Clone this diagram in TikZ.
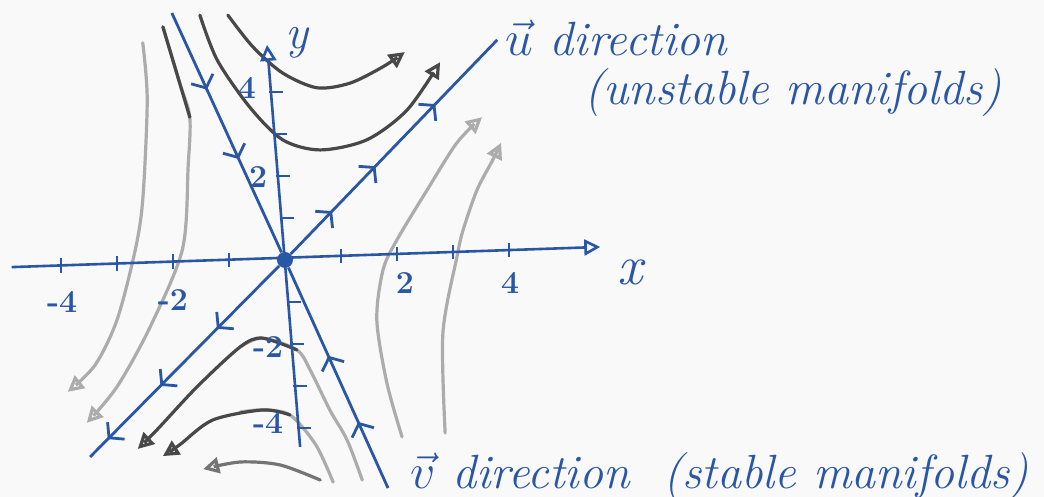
\documentclass[tikz,border=0pt]{standalone}
\usepackage{fontspec}
\usepackage{tikz}
\usetikzlibrary{arrows.meta,calc,decorations.markings}
\definecolor{ink}{RGB}{42,86,166}
\definecolor{pencil}{RGB}{72,72,72}
\definecolor{pencillt}{RGB}{172,172,172}
\definecolor{paper}{RGB}{249,249,249}
\tikzset{
  chev/.tip={Straight Barb[length=5pt,width=12pt]},
  headtip/.tip={Triangle[open,length=8pt,width=8pt]}
}

\begin{document}
\begin{tikzpicture}[
  x=28pt,y=21pt,
  axis/.style={draw=ink,line width=1.3pt},
  manifold/.style={draw=ink,line width=1.4pt,postaction={decorate}},
  flow/.style={draw=pencil,line width=1.6pt,line cap=round,-{headtip}},
  flowlt/.style={flow,draw=pencillt},
  ticklab/.style={text=ink,font=\fontsize{16}{19}\selectfont\bfseries,inner sep=0},
  axlab/.style={text=ink,font=\fontsize{24}{28}\selectfont\itshape,inner sep=0},
  note/.style={text=ink,font=\fontsize{24}{28}\selectfont\itshape,inner sep=0,anchor=base west}
]
\path[use as bounding box,fill=paper] (-5.089,-5.643) rectangle (13.554,6.19);

% trajectories
\draw[flow] plot[smooth] coordinates {(-1.02,5.83) (-0.57,5.07) (-0.04,4.45) (0.57,4.10) (1.16,4.21) (1.75,4.60) (2.14,4.95)};
\draw[flow] plot[smooth] coordinates {(-1.52,5.83) (-1.21,4.76) (-0.63,3.64) (-0.04,2.86) (0.63,2.62) (1.46,2.86) (2.18,3.57) (2.77,4.71)};
\draw[flowlt] plot[smooth] coordinates {(-2.54,5.17) (-2.46,3.81) (-2.54,1.43) (-2.68,0.2) (-3.0,-1.43) (-3.39,-2.5) (-3.88,-3.14)};
\draw[flowlt] plot[smooth] coordinates {(-2.18,5.55) (-1.88,4.21) (-1.70,3.40) (-1.73,2.21) (-1.83,0.26) (-2.41,-1.6) (-3.0,-3.02) (-3.54,-3.88)};
\draw[flow,-] plot[smooth] coordinates {(-2.18,5.55) (-1.88,4.21) (-1.70,3.40)};
\draw[flowlt] plot[smooth] coordinates {(2.09,-4.21) (1.82,-2.93) (1.64,-1.43) (1.75,-0.24) (2.0,0.48) (2.54,1.67) (3.07,2.79) (3.52,3.40)};
\draw[flowlt] plot[smooth] coordinates {(2.86,-4.12) (2.82,-1.74) (3.07,0.07) (3.18,0.71) (3.43,1.67) (3.71,2.38) (3.86,2.79)};
\draw[flowlt,-] plot[smooth] coordinates {(1.38,-5.24) (1.11,-4.29) (0.80,-3.57) (0.45,-2.62) (0.21,-2.14) (-0.41,-1.86) (-0.80,-2.07)};
\draw[flow] plot[smooth] coordinates {(0.21,-2.14) (-0.41,-1.86) (-0.80,-2.07) (-1.57,-3.02) (-2.29,-4.05) (-2.63,-4.5)};
\draw[flowlt,-] plot[smooth] coordinates {(0.86,-5.29) (0.55,-4.40) (0.09,-3.69) (-0.39,-3.57) (-0.80,-3.62)};
\draw[flow] plot[smooth] coordinates {(0.09,-3.69) (-0.39,-3.57) (-1.29,-3.81) (-1.88,-4.40) (-2.18,-4.67)};
\draw[flow,draw=pencil!75!paper] plot[smooth] coordinates {(0.63,-5.24) (-0.09,-4.88) (-0.80,-4.81) (-1.46,-4.98)};

% axes
\coordinate (xW) at (-4.88,-0.17);
\coordinate (xE) at (5.63,0.31);
\coordinate (yN) at (-0.32,5.12);
\coordinate (yS) at (0.27,-4.45);
\draw[axis,-{headtip}] (xW) -- (xE);
\draw[axis,-{headtip}] (yS) -- (yN);
\foreach \i in {-4,-3,-2,-1,1,2,3,4} {
  \draw[axis] ($(xW)!{(\i+4.88)/10.51}!(xE)$) +(0,-0.17) -- +(0,0.17);
  \draw[axis] ($(yN)!{(5.12-\i)/9.57}!(yS)$) +(-0.03,0) -- +(0.22,0);
}

% saddle and manifolds
\node[circle,fill=ink,inner sep=0,minimum size=8pt] (O) at (0,0) {};
\coordinate (uNE) at (3.79,5.24);
\coordinate (uSW) at (-3.48,-4.69);
\coordinate (vNW) at (-2.02,5.88);
\coordinate (vSE) at (1.84,-5.43);
\draw[manifold,decoration={markings,mark=at position .2 with {\arrow{chev}},
  mark=at position .41 with {\arrow{chev}},mark=at position .7 with {\arrow{chev}}}] (O) -- (uNE);
\draw[manifold,decoration={markings,mark=at position .33 with {\arrow{chev}},
  mark=at position .63 with {\arrow{chev}},mark=at position .91 with {\arrow{chev}}}] (O) -- (uSW);
\draw[manifold,decoration={markings,mark=at position .32 with {\arrow{chev}},
  mark=at position .61 with {\arrow{chev}}}] (vNW) -- (O);
\draw[manifold,decoration={markings,mark=at position .3 with {\arrow{chev}},
  mark=at position .6 with {\arrow{chev}}}] (vSE) -- (O);

% labels
\node[ticklab] (xm4) at (-3.98,-1.0) {-4};
\node[ticklab] (xm2) at (-2.0,-0.95) {-2};
\node[ticklab] (xp2) at (2.14,-0.55) {2};
\node[ticklab] (xp4) at (4.02,-0.55) {4};
\node[ticklab] (yp4) at (-0.68,4.10) {4};
\node[ticklab] (yp2) at (-0.48,1.98) {2};
\node[ticklab] (ym2) at (-0.30,-2.07) {-2};
\node[ticklab] (ym4) at (-0.30,-3.88) {-4};
\node[axlab] (ylab) at (0.21,5.17) {y};
\node[axlab,font=\fontsize{28}{32}\selectfont\itshape] (xlab) at (6.16,-0.29) {x};

\node[note] (ulab) at (3.93,4.88) {$\vec{u}$ direction};
\node[note] (unst) at (5.34,3.69) {(unstable manifolds)};
\node[note] (vlab) at (2.23,-5.43) {$\vec{v}$ direction\hspace{0.7em}(stable manifolds)};
\end{tikzpicture}
\end{document}
